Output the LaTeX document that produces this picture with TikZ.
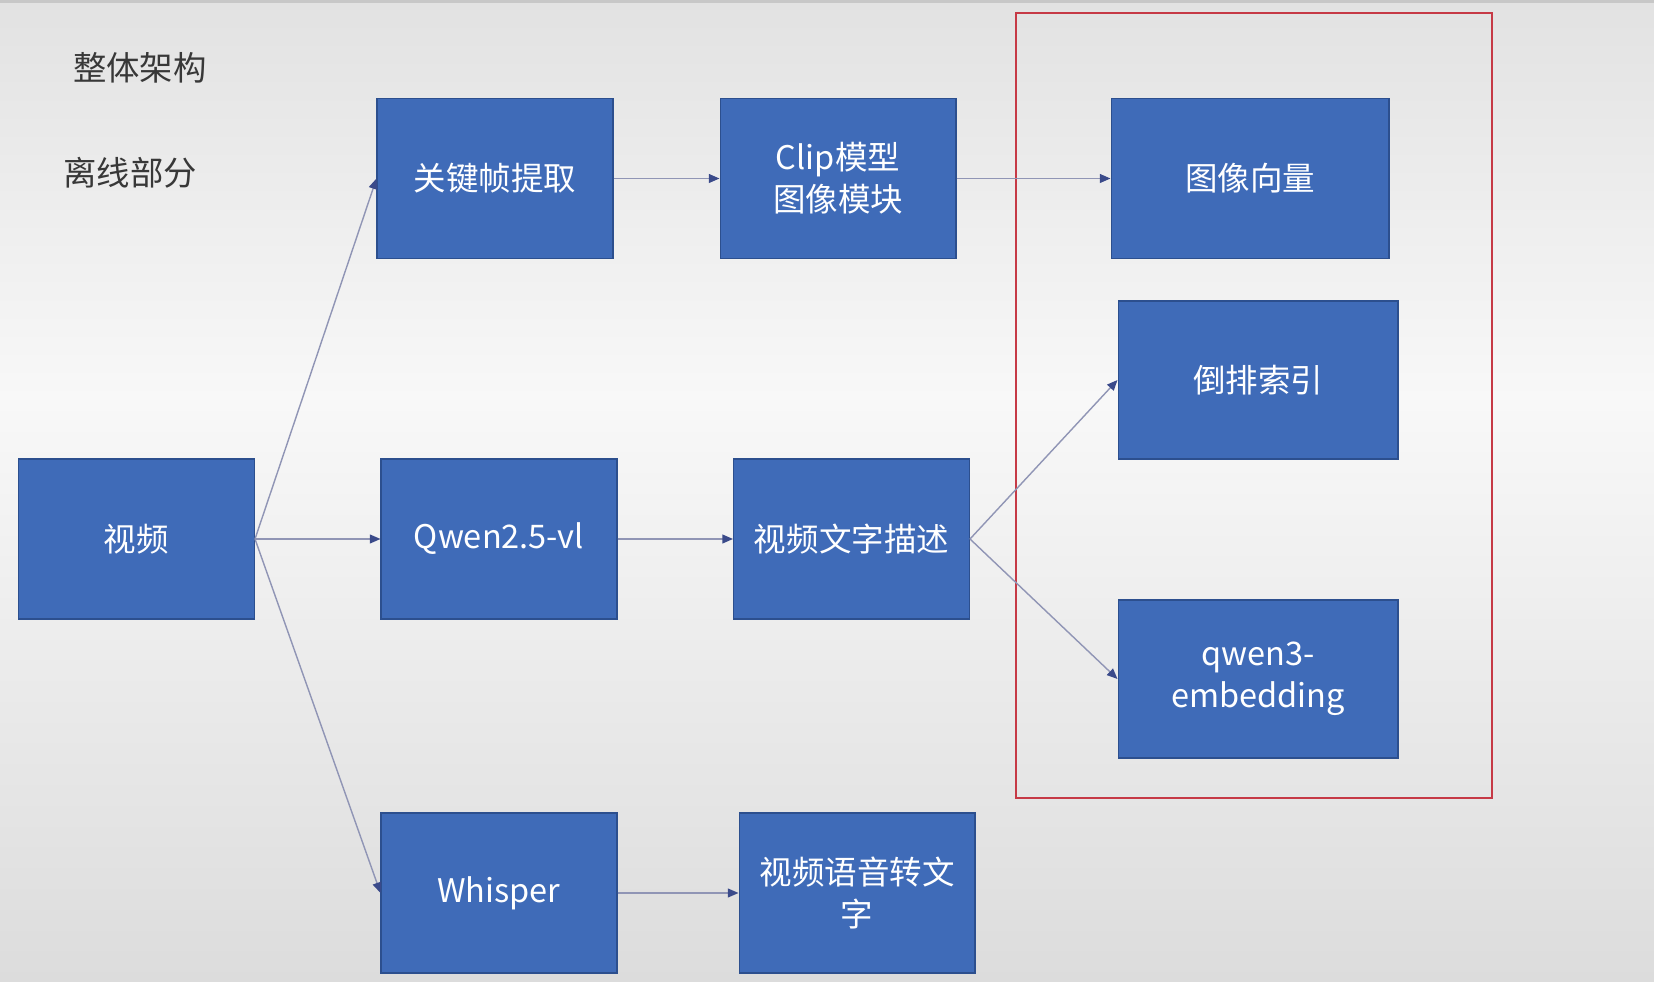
\documentclass[tikz,border=0pt]{standalone}
\usepackage{fontspec}
\setmainfont{Noto Sans CJK SC}
\usetikzlibrary{arrows.meta}
\definecolor{boxblue}{HTML}{3F6BB8}
\definecolor{boxedge}{HTML}{2C4F8E}
\definecolor{linkgray}{HTML}{9095B5}
\definecolor{tipblue}{HTML}{3A4A8A}
\definecolor{framered}{HTML}{C63A46}
\definecolor{bgtop}{HTML}{E2E2E2}
\definecolor{bgmid}{HTML}{F8F8F8}
\definecolor{bgbot}{HTML}{DCDCDC}
\tikzstyle{block} = [rectangle, fill=boxblue, draw=boxedge, line width=0.6pt, minimum width=4.72cm, minimum height=3.2cm, inner sep=0pt, text=white, align=center, font=\fontsize{18.5}{24}\selectfont]
\tikzstyle{wide} = [minimum width=5.6cm, minimum height=3.16cm]
\tikzstyle{heading} = [text=black!78, font=\fontsize{19}{24}\selectfont]
\tikzstyle{link} = [draw=linkgray, line width=0.8pt, -{Triangle[length=6pt,width=5pt,color=tipblue]}]

\begin{document}
\begin{tikzpicture}[x=0.02cm, y=-0.02cm]
  % background
  \shade[top color=bgtop, bottom color=bgmid] (0,0) rectangle (1654,400);
  \shade[top color=bgmid, bottom color=bgbot] (0,400) rectangle (1654,982);
  \fill[black!22] (0,0) rectangle (1654,3);
  \useasboundingbox (0,0) rectangle (1654,982);

  \node (title) [heading] at (140,68) {整体架构};
  \node (offline) [heading] at (130,173) {离线部分};

  \node (video) [block] at (136.5,539) {视频};
  \node (keyframe) [block] at (495,178.5) {关键帧提取};
  \node (clip) [block] at (838,178.5) {Clip模型\\图像模块};
  \node (imgvec) [block, minimum width=5.56cm] at (1250,178.5) {图像向量};
  \node (qwenvl) [block] at (499,539) {Qwen2.5-vl};
  \node (desc) [block] at (851.5,539) {视频文字描述};
  \node (invidx) [block, wide] at (1258,380) {倒排索引};
  \node (embed) [block, wide] at (1258,679) {qwen3-\\embedding};
  \node (whisper) [block] at (499,893) {Whisper};
  \node (speech) [block] at (857,893) {视频语音转文\\字};

  % storage part
  \draw[framered, line width=1.1pt] (1016,13) rectangle (1492,798);

  \draw[link] (video.east) -- (keyframe.west);
  \draw[link] (video.east) -- (qwenvl.west);
  \draw[link] (video.east) -- (whisper.west);
  \draw[link] (keyframe) -- (clip);
  \draw[link] (clip) -- (imgvec);
  \draw[link] (qwenvl) -- (desc);
  \draw[link] (desc.east) -- (invidx.west);
  \draw[link] (desc.east) -- (embed.west);
  \draw[link] (whisper) -- (speech);
\end{tikzpicture}
\end{document}
